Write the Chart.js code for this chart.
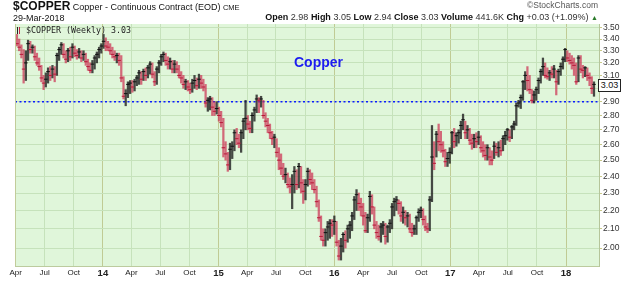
<!DOCTYPE html>
<html lang="en">
<head>
<meta charset="UTF-8">
<title>$COPPER weekly</title>
<script src="https://cdn.jsdelivr.net/npm/chart.js@4.4.1/dist/chart.umd.min.js"></script>
<style>
  body { margin: 0; background: #fff; font-family: "Liberation Sans", Arial, sans-serif; }
  .wrap { position: relative; width: 640px; height: 283px; overflow: hidden; }
  #chart { position: absolute; left: 0; top: 0; }
  .txt { position: absolute; white-space: nowrap; color: #111; }
  #title { left: 13px; top: 0px; font-size: 9px; line-height: 13px; }
  #title b { font-size: 12px; }
  #title .ex { font-size: 7.5px; }
  #date { left: 13px; top: 13px; font-size: 9px; line-height: 10px; }
  #brand { right: 42px; top: 0px; font-size: 8.5px; line-height: 10px; color: #555; }
  #quote { right: 42px; top: 12px; font-size: 9px; line-height: 10px; }
  #quote .v { color: #333; }
  #quote .up { color: #2a7a2a; font-size: 7px; }
  #legend { left: 17px; top: 25px; font-family: "DejaVu Sans Mono", monospace; font-size: 8.3px; line-height: 10px; color: #222; }
  #legend i { display: inline-block; width: 1px; height: 7px; margin-right: 1px; vertical-align: -1px; }
  #name { left: 294px; top: 55px; font-size: 14px; line-height: 14px; font-weight: bold; color: #1c1cf0; }
  #last { left: 598px; top: 79px; width: 21px; height: 11px; border: 1px solid #222; background: #fff;
          font-size: 9px; line-height: 11px; text-align: center; color: #111; }
</style>
</head>
<body>
<div class="wrap">
  <canvas id="chart" width="640" height="283"></canvas>
  <div class="txt" id="title"><b>$COPPER</b> Copper - Continuous Contract (EOD) <span class="ex">CME</span></div>
  <div class="txt" id="date">29-Mar-2018</div>
  <div class="txt" id="brand">&copy;StockCharts.com</div>
  <div class="txt" id="quote"><b>Open</b> <span class="v">2.98</span> <b>High</b> <span class="v">3.05</span> <b>Low</b> <span class="v">2.94</span> <b>Close</b> <span class="v">3.03</span> <b>Volume</b> <span class="v">441.6K</span> <b>Chg</b> <span class="v">+0.03 (+1.09%)</span> <span class="up">&#9650;</span></div>
  <div class="txt" id="legend"><i style="background:#222"></i><i style="background:#c8284a"></i> $COPPER (Weekly) 3.03</div>
  <div class="txt" id="name">Copper</div>
  <div class="txt" id="last">3.03</div>
</div>

<script>
  // weekly bars, first week ending 5-Apr-2013, one row per quarter
  const highs = [
    3.44,3.40,3.35,3.31,3.30,3.39,3.38,3.35,3.34,3.28,3.24,3.18,3.10,
    3.12,3.16,3.17,3.18,3.17,3.28,3.33,3.37,3.36,3.30,3.32,3.33,3.36,
    3.34,3.31,3.32,3.30,3.30,3.28,3.23,3.20,3.22,3.26,3.29,3.33,3.36,
    3.44,3.41,3.38,3.36,3.33,3.30,3.28,3.28,3.26,3.09,2.99,3.05,3.06,
    3.06,3.07,3.10,3.14,3.13,3.15,3.16,3.18,3.21,3.20,3.13,3.17,3.22,
    3.27,3.29,3.28,3.25,3.24,3.22,3.22,3.21,3.18,3.13,3.10,3.07,3.06,
    3.04,3.07,3.10,3.08,3.11,3.10,3.07,3.03,2.93,2.94,2.93,2.90,2.90,
    2.86,2.83,2.78,2.62,2.55,2.61,2.62,2.70,2.71,2.67,2.70,2.78,2.91,
    2.80,2.76,2.82,2.86,2.95,2.93,2.94,2.91,2.82,2.78,2.74,2.69,2.67,
    2.64,2.58,2.54,2.48,2.45,2.42,2.39,2.41,2.46,2.44,2.48,2.46,2.38,
    2.38,2.45,2.44,2.42,2.38,2.34,2.26,2.17,2.10,2.10,2.14,2.15,2.15,
    2.17,2.14,2.04,2.05,2.08,2.09,2.12,2.14,2.19,2.28,2.32,2.30,2.27,
    2.24,2.19,2.18,2.31,2.29,2.22,2.14,2.12,2.13,2.14,2.13,2.12,2.15,
    2.24,2.27,2.28,2.26,2.25,2.22,2.20,2.19,2.18,2.13,2.12,2.17,2.21,
    2.22,2.21,2.17,2.13,2.28,2.73,2.62,2.69,2.74,2.69,2.62,2.57,2.55,
    2.58,2.69,2.71,2.68,2.70,2.76,2.81,2.76,2.73,2.71,2.67,2.67,2.68,
    2.69,2.66,2.62,2.60,2.60,2.58,2.56,2.62,2.61,2.62,2.63,2.66,2.69,
    2.71,2.70,2.73,2.76,2.89,2.91,2.95,3.06,3.13,3.17,3.10,2.99,2.98,
    3.01,3.08,3.15,3.24,3.20,3.16,3.14,3.17,3.18,3.14,3.15,3.20,3.25,
    3.32,3.30,3.28,3.26,3.24,3.20,3.26,3.26,3.18,3.17,3.16,3.12,3.09,3.05
  ];
  const lows = [
    3.34,3.30,3.24,3.04,3.06,3.22,3.28,3.28,3.22,3.18,3.14,3.05,2.99,
    3.01,3.04,3.06,3.08,3.05,3.10,3.22,3.27,3.24,3.20,3.21,3.22,3.24,
    3.25,3.23,3.24,3.21,3.22,3.18,3.14,3.12,3.12,3.15,3.20,3.24,3.28,
    3.32,3.30,3.30,3.27,3.24,3.22,3.20,3.18,3.05,2.92,2.87,2.93,2.96,
    2.97,2.98,3.02,3.03,3.03,3.06,3.06,3.08,3.11,3.08,3.02,3.03,3.12,
    3.18,3.21,3.18,3.15,3.15,3.12,3.12,3.12,3.08,3.04,3.00,2.99,2.98,
    2.96,2.97,3.00,2.99,3.00,3.00,2.98,2.86,2.83,2.84,2.80,2.80,2.81,
    2.76,2.72,2.52,2.50,2.43,2.44,2.51,2.56,2.60,2.58,2.55,2.64,2.70,
    2.70,2.68,2.68,2.76,2.82,2.82,2.86,2.78,2.72,2.68,2.64,2.60,2.58,
    2.52,2.44,2.41,2.38,2.36,2.33,2.30,2.21,2.30,2.32,2.33,2.30,2.24,
    2.26,2.34,2.35,2.32,2.30,2.22,2.14,2.04,2.01,2.01,2.04,2.05,2.06,
    2.07,2.01,1.94,1.94,1.98,2.00,2.03,2.05,2.09,2.15,2.20,2.20,2.17,
    2.12,2.08,2.08,2.14,2.18,2.10,2.05,2.04,2.03,2.07,2.02,2.03,2.08,
    2.10,2.17,2.20,2.18,2.14,2.13,2.12,2.11,2.08,2.06,2.07,2.07,2.14,
    2.16,2.12,2.09,2.08,2.09,2.25,2.44,2.52,2.56,2.55,2.52,2.46,2.46,
    2.48,2.54,2.58,2.59,2.61,2.64,2.70,2.64,2.64,2.60,2.57,2.58,2.58,
    2.60,2.55,2.52,2.50,2.50,2.47,2.47,2.51,2.53,2.52,2.53,2.56,2.60,
    2.63,2.62,2.64,2.70,2.73,2.86,2.85,2.91,2.99,2.98,2.96,2.89,2.89,
    2.91,2.96,3.04,3.10,3.08,3.07,3.06,3.08,3.08,2.95,3.03,3.10,3.15,
    3.21,3.21,3.19,3.15,3.10,3.03,3.05,3.12,3.08,3.09,3.06,3.02,2.96,2.94
  ];
  const closes = [
    3.36,3.33,3.27,3.15,3.20,3.36,3.31,3.33,3.25,3.20,3.17,3.08,3.04,
    3.07,3.13,3.10,3.15,3.11,3.26,3.31,3.35,3.27,3.23,3.30,3.25,3.33,
    3.28,3.26,3.29,3.24,3.27,3.21,3.17,3.14,3.19,3.24,3.27,3.31,3.34,
    3.38,3.34,3.33,3.30,3.27,3.25,3.26,3.22,3.08,2.94,2.96,3.03,3.04,
    3.01,3.05,3.08,3.12,3.07,3.13,3.10,3.16,3.19,3.11,3.05,3.15,3.20,
    3.25,3.27,3.22,3.19,3.21,3.15,3.19,3.15,3.10,3.08,3.03,3.05,3.01,
    2.99,3.04,3.06,3.02,3.07,3.04,3.01,2.89,2.91,2.92,2.86,2.83,2.85,
    2.80,2.75,2.58,2.54,2.47,2.57,2.59,2.68,2.64,2.61,2.68,2.76,2.78,
    2.74,2.71,2.80,2.84,2.92,2.91,2.92,2.80,2.76,2.73,2.68,2.64,2.65,
    2.55,2.50,2.45,2.40,2.41,2.35,2.34,2.35,2.43,2.35,2.46,2.36,2.31,
    2.35,2.43,2.38,2.36,2.32,2.25,2.16,2.06,2.04,2.08,2.11,2.13,2.12,
    2.14,2.03,1.96,2.01,2.07,2.04,2.10,2.12,2.17,2.26,2.29,2.24,2.22,
    2.17,2.09,2.16,2.28,2.22,2.12,2.08,2.06,2.11,2.12,2.06,2.11,2.13,
    2.22,2.25,2.26,2.24,2.17,2.19,2.16,2.17,2.10,2.08,2.10,2.16,2.19,
    2.20,2.15,2.11,2.10,2.26,2.52,2.48,2.67,2.62,2.60,2.56,2.49,2.51,
    2.55,2.68,2.62,2.66,2.68,2.73,2.77,2.68,2.70,2.63,2.61,2.64,2.62,
    2.65,2.58,2.56,2.53,2.58,2.52,2.50,2.59,2.55,2.58,2.56,2.64,2.66,
    2.70,2.65,2.72,2.74,2.87,2.89,2.93,3.05,3.10,3.06,2.99,2.91,2.95,
    2.99,3.06,3.13,3.17,3.10,3.09,3.12,3.11,3.15,3.05,3.13,3.17,3.23,
    3.31,3.24,3.22,3.20,3.18,3.05,3.24,3.15,3.14,3.16,3.10,3.08,3.00,3.03
  ];
  const priorClose = 3.42;
  const refLevel = 2.90;

  const tickDates = [
    '2013-04-01','2013-07-01','2013-10-01','2014-01-01','2014-04-01','2014-07-01','2014-10-01',
    '2015-01-01','2015-04-01','2015-07-01','2015-10-01','2016-01-01','2016-04-01','2016-07-01',
    '2016-10-01','2017-01-01','2017-04-01','2017-07-01','2017-10-01','2018-01-01'
  ];
  const tickLabels = ['Apr','Jul','Oct','14','Apr','Jul','Oct','15','Apr','Jul','Oct','16',
                      'Apr','Jul','Oct','17','Apr','Jul','Oct','18'];
  const yTicks = [2.0,2.1,2.2,2.3,2.4,2.5,2.6,2.7,2.8,2.9,3.0,3.1,3.2,3.3,3.4,3.5];

  // x in days from the first week
  const startDay = Date.UTC(2013, 3, 5);
  const dayOf = s => (Date.parse(s) - startDay) / 864e5;
  const tickDays = tickDates.map(dayOf);
  const xMin = -6.2, xMax = 1835.8;
  const yMin = 1.911, yMax = 3.532;

  const RED = 'rgba(204,45,80,0.7)', BLACK = 'rgba(30,30,30,0.8)';
  const up = closes.map((c, i) => c >= (i ? closes[i - 1] : priorClose));
  const isYear = i => /^\d+$/.test(tickLabels[i] || '');

  const plotBg = {
    id: 'plotBg',
    beforeDraw(chart) {
      const { ctx, chartArea: a } = chart;
      ctx.save();
      ctx.fillStyle = '#e0f6da';
      ctx.fillRect(a.left, a.top, a.right - a.left, a.bottom - a.top);
      ctx.restore();
    },
    afterDraw(chart) {
      const { ctx, chartArea: a } = chart;
      ctx.save();
      ctx.strokeStyle = '#c2cc9a';
      ctx.beginPath();
      ctx.moveTo(a.left + 0.5, a.top);
      ctx.lineTo(a.left + 0.5, a.bottom);
      ctx.stroke();
      ctx.restore();
    }
  };

  Chart.defaults.font.family = "'Liberation Sans', Arial, sans-serif";

  new Chart(document.getElementById('chart'), {
    type: 'bar',
    data: {
      datasets: [{
        label: 'range',
        data: highs.map((h, i) => ({ x: i * 7, y: [lows[i], h] })),
        backgroundColor: up.map(u => u ? BLACK : RED),
        borderWidth: 0,
        barThickness: 1.6,
        grouped: false,
        order: 2
      }, {
        type: 'scatter',
        label: 'close',
        data: closes.map((c, i) => ({ x: i * 7, y: c })),
        pointStyle: 'line',
        pointRadius: 1.8,
        borderWidth: 1,
        borderColor: up.map(u => u ? '#111' : '#b81838'),
        order: 1
      }, {
        type: 'line',
        label: 'level',
        data: [{ x: xMin, y: refLevel }, { x: xMax, y: refLevel }],
        borderColor: '#0a1cff',
        borderWidth: 1.5,
        borderDash: [2, 2.5],
        pointRadius: 0,
        order: 3
      }]
    },
    options: {
      responsive: false,
      animation: false,
      events: [],
      layout: { padding: { left: 15, top: 24, right: 0, bottom: 0 } },
      plugins: { legend: { display: false }, tooltip: { enabled: false } },
      scales: {
        x: {
          type: 'linear',
          min: xMin, max: xMax,
          offset: false,
          afterBuildTicks: s => { s.ticks = tickDays.map(v => ({ value: v })); },
          afterFit: s => { s.height = 17; },
          grid: {
            offset: false,
            drawTicks: false,
            color: ctx => isYear(ctx.index) ? '#c0cb94' : '#c6e2bb'
          },
          border: { color: '#bccb9e' },
          ticks: {
            autoSkip: false, maxRotation: 0, padding: 2, color: '#222',
            font: ctx => isYear(ctx.index) ? { size: 9.5, weight: 'bold' } : { size: 8 },
            callback: (v, i) => tickLabels[i]
          }
        },
        y: {
          type: 'logarithmic',
          position: 'right',
          min: yMin, max: yMax,
          beginAtZero: false,
          afterBuildTicks: s => { s.ticks = yTicks.map(v => ({ value: v })); },
          afterFit: s => { s.width = 41; },
          grid: { color: '#c6e2bb', tickLength: 3, tickColor: '#c9c98a' },
          border: { color: '#b5c59a' },
          ticks: { padding: 1, color: '#333', font: { size: 8.5 }, callback: v => Number(v).toFixed(2) }
        }
      }
    },
    plugins: [plotBg]
  });
</script>
</body>
</html>
